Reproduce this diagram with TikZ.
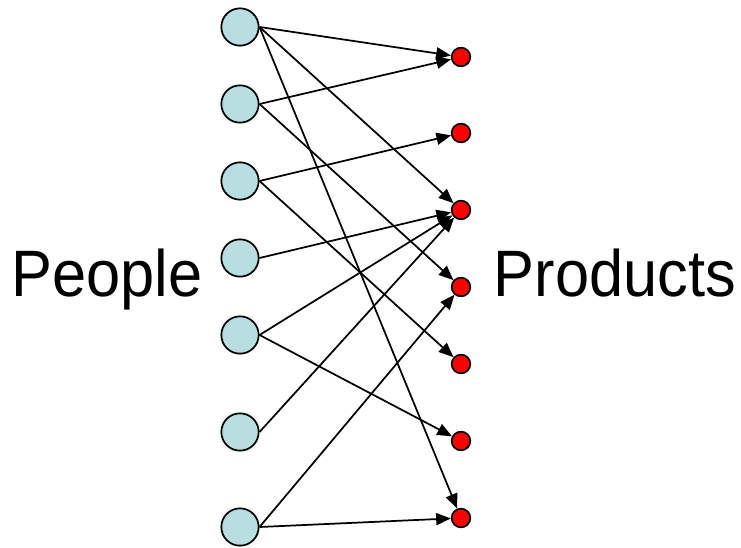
\documentclass[tikz,border=0pt]{standalone}
\usepackage{fontspec}
\newfontfamily\labelfont{Liberation Sans}
\usetikzlibrary{arrows.meta}
\definecolor{personblue}{RGB}{184,222,226}
\begin{document}
\begin{tikzpicture}[x=0.75pt,y=-0.75pt,line width=1.3pt]
      \useasboundingbox (0,0) rectangle (741,548);

      \begin{scope}[every node/.style={circle,draw,fill=personblue,inner sep=0pt,minimum size=28pt}]
        \node (p1) at (240,27)  {};
        \node (p2) at (240,104) {};
        \node (p3) at (240,181) {};
        \node (p4) at (240,258) {};
        \node (p5) at (240,335) {};
        \node (p6) at (240,432) {};
        \node (p7) at (240,527) {};
      \end{scope}

      \begin{scope}[every node/.style={circle,draw,fill=red,inner sep=0pt,minimum size=14pt}]
        \node (r1) at (461,57)  {};
        \node (r2) at (461,133) {};
        \node (r3) at (461,210) {};
        \node (r4) at (461,287) {};
        \node (r5) at (461,364) {};
        \node (r6) at (461,441) {};
        \node (r7) at (461,518) {};
      \end{scope}

      \begin{scope}[every node/.style={anchor=base,inner sep=0pt,font=\labelfont\fontsize{46pt}{50pt}\selectfont}]
        \node (people)   at (107,297) {\scalebox{1}[1.07]{People}};
        \node (products) at (615,297) {\scalebox{1}[1.07]{Products}};
      \end{scope}

      \begin{scope}[every edge/.style={draw,-{Triangle[length=11pt,width=9pt]}}]
        \path (p1.east) edge (r1);
        \path (p1.east) edge (r3);
        \path (p1.east) edge (r7);
        \path (p2.east) edge (r1);
        \path (p2.east) edge (r4);
        \path (p3.east) edge (r2);
        \path (p3.east) edge (r5);
        \path (p4.east) edge (r3);
        \path (p5.east) edge (r3);
        \path (p5.east) edge (r6);
        \path (p6.east) edge (r3);
        \path (p7.east) edge (r4);
        \path (p7.east) edge (r7);
      \end{scope}

    \end{tikzpicture}
\end{document}
